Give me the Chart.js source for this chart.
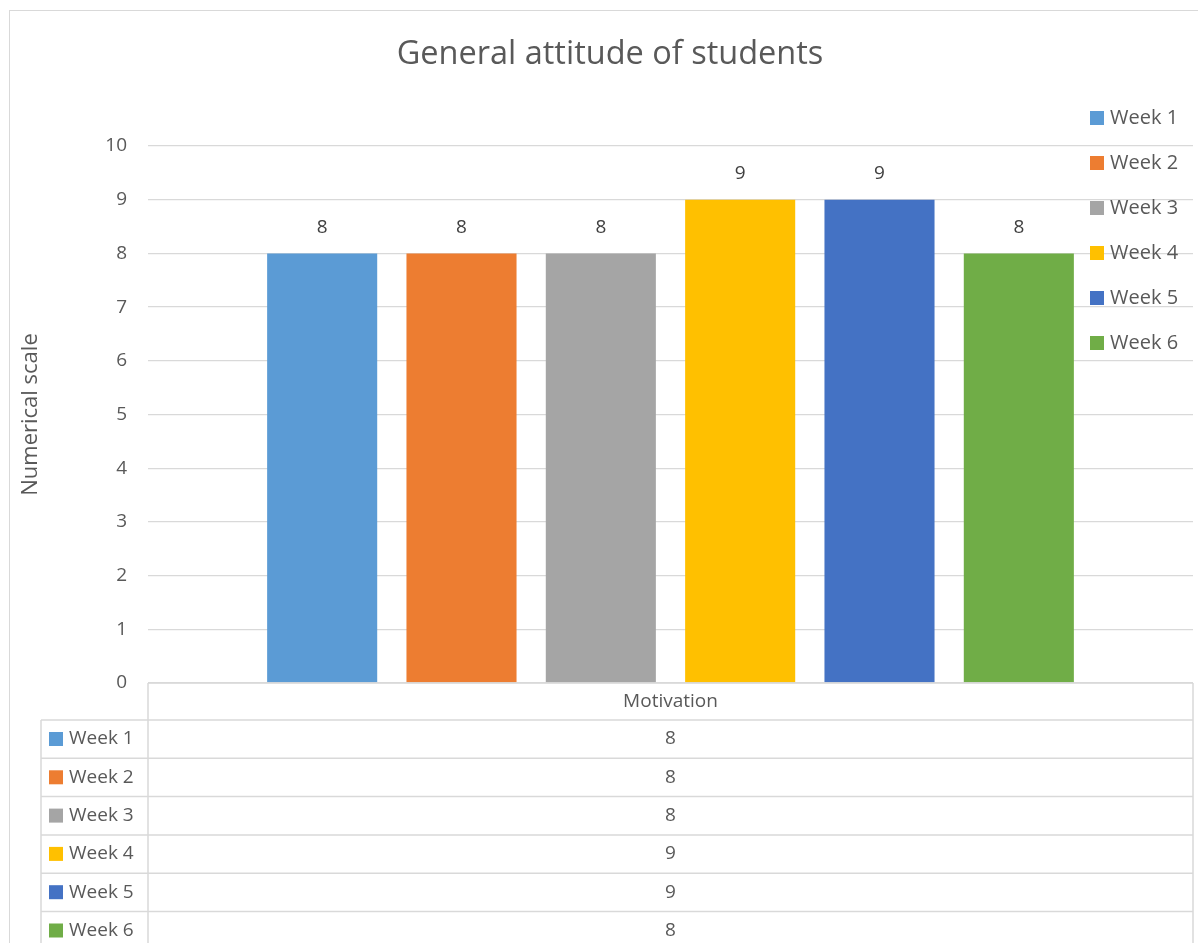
<!DOCTYPE html>
<html>
<head>
<meta charset="utf-8">
<title>General attitude of students</title>
<script src="https://cdn.jsdelivr.net/npm/chart.js@4.4.1/dist/chart.umd.min.js"></script>
<style>
  html, body { margin: 0; padding: 0; background: #fff; overflow: hidden; }
  #frame { position: absolute; left: 9px; top: 10px; width: 1400px; height: 1100px; border: 1px solid #d9d9d9; }
  #chart { position: absolute; left: 0; top: 0; }
</style>
</head>
<body>
<div id="frame"></div>
<canvas id="chart" width="1220" height="943"></canvas>
<script>
const categories = ["Motivation"];
const weeks = ["Week 1", "Week 2", "Week 3", "Week 4", "Week 5", "Week 6"];
const scores = [8, 8, 8, 9, 9, 8];
const weekColors = ["#5B9BD5", "#ED7D31", "#A5A5A5", "#FFC000", "#4472C4", "#70AD47"];

const FONT = '"Open Sans", "Noto Sans", sans-serif';
const TEXT = "#595959";
const LINE = "#d9d9d9";

// labels over each bar
const barValues = {
      id: "barValues",
      afterDatasetsDraw(chart) {
            const ctx = chart.ctx;
            ctx.save();
            ctx.font = "19px " + FONT;
            ctx.fillStyle = "#404040";
            ctx.textAlign = "center";
            ctx.textBaseline = "middle";
            chart.data.datasets.forEach((ds, i) => {
                  chart.getDatasetMeta(i).data.forEach((bar, j) => {
                        ctx.fillText(String(ds.data[j]), bar.x, bar.y - 26);
                  });
            });
            ctx.restore();
      },
};

// legend on the right + data table under the plot
const legendAndTable = {
      id: "legendAndTable",
      afterDraw(chart) {
            const ctx = chart.ctx;
            const area = chart.chartArea;
            const datasets = chart.data.datasets;
            const bottom = chart.height;
            ctx.save();

            // legend
            ctx.font = "20px " + FONT;
            ctx.textBaseline = "middle";
            ctx.textAlign = "left";
            datasets.forEach((ds, i) => {
                  const y = 118 + i * 45;
                  ctx.fillStyle = ds.backgroundColor;
                  ctx.fillRect(1090, y - 7, 14, 14);
                  ctx.fillStyle = TEXT;
                  ctx.fillText(ds.label, 1110, y);
            });

            // table grid
            const headerBottom = area.bottom + 37;
            const rowH = 38.3;
            const leftX = 41;
            const midX = (area.left + area.right) / 2;
            ctx.strokeStyle = LINE;
            ctx.lineWidth = 1.5;
            ctx.beginPath();
            ctx.moveTo(area.left, area.bottom);
            ctx.lineTo(area.right, area.bottom);
            ctx.moveTo(area.left, area.bottom);
            ctx.lineTo(area.left, bottom);
            ctx.moveTo(area.right, area.bottom);
            ctx.lineTo(area.right, bottom);
            ctx.moveTo(leftX, headerBottom);
            ctx.lineTo(leftX, bottom);
            for (let i = 0; i <= datasets.length; i++) {
                  const y = headerBottom + i * rowH;
                  ctx.moveTo(leftX, y);
                  ctx.lineTo(area.right, y);
            }
            ctx.stroke();

            // header + rows
            ctx.font = "19px " + FONT;
            ctx.fillStyle = TEXT;
            ctx.textAlign = "center";
            ctx.fillText(chart.data.labels[0], midX, area.bottom + 19);
            datasets.forEach((ds, i) => {
                  const y = headerBottom + i * rowH + 19;
                  ctx.fillStyle = ds.backgroundColor;
                  ctx.fillRect(49, y - 7, 14, 14);
                  ctx.fillStyle = TEXT;
                  ctx.textAlign = "left";
                  ctx.fillText(ds.label, 69, y);
                  ctx.textAlign = "center";
                  ctx.fillText(String(ds.data[0]), midX, y);
            });
            ctx.restore();
      },
};

function renderChart() {
      const ctx = document.getElementById("chart");
      new Chart(ctx, {
            type: "bar",
            data: {
                  labels: categories,
                  datasets: weeks.map((week, i) => ({
                        label: week,
                        data: [scores[i]],
                        backgroundColor: weekColors[i],
                        borderWidth: 0,
                        categoryPercentage: 0.8,
                        barPercentage: 0.79,
                  })),
            },
            options: {
                  responsive: false,
                  animation: false,
                  // left padding keeps the title centred like the original chart frame
                  layout: { padding: { left: 27, right: 27, top: 0, bottom: 260 } },
                  plugins: {
                        legend: { display: false },
                        tooltip: { enabled: false },
                        title: {
                              display: true,
                              text: "General attitude of students",
                              color: TEXT,
                              font: { family: FONT, size: 32.5, weight: "normal", lineHeight: 1.2 },
                              padding: { top: 35, bottom: 72 },
                        },
                  },
                  scales: {
                        x: { display: false },
                        y: {
                              min: 0,
                              max: 10,
                              border: { display: false },
                              grid: { color: LINE, lineWidth: 1.3, drawTicks: false },
                              ticks: {
                                    stepSize: 1,
                                    padding: 21,
                                    color: TEXT,
                                    font: { family: FONT, size: 19 },
                              },
                              title: {
                                    display: true,
                                    text: "Numerical scale",
                                    color: TEXT,
                                    font: { family: FONT, size: 22, lineHeight: 1.2 },
                                    padding: { top: -9, bottom: 0 },
                              },
                              afterFit(scale) {
                                    scale.width = 121;
                              },
                        },
                  },
            },
            plugins: [barValues, legendAndTable],
      });
}

document.fonts.load('20px "Open Sans"').then(renderChart, renderChart);
</script>
</body>
</html>
